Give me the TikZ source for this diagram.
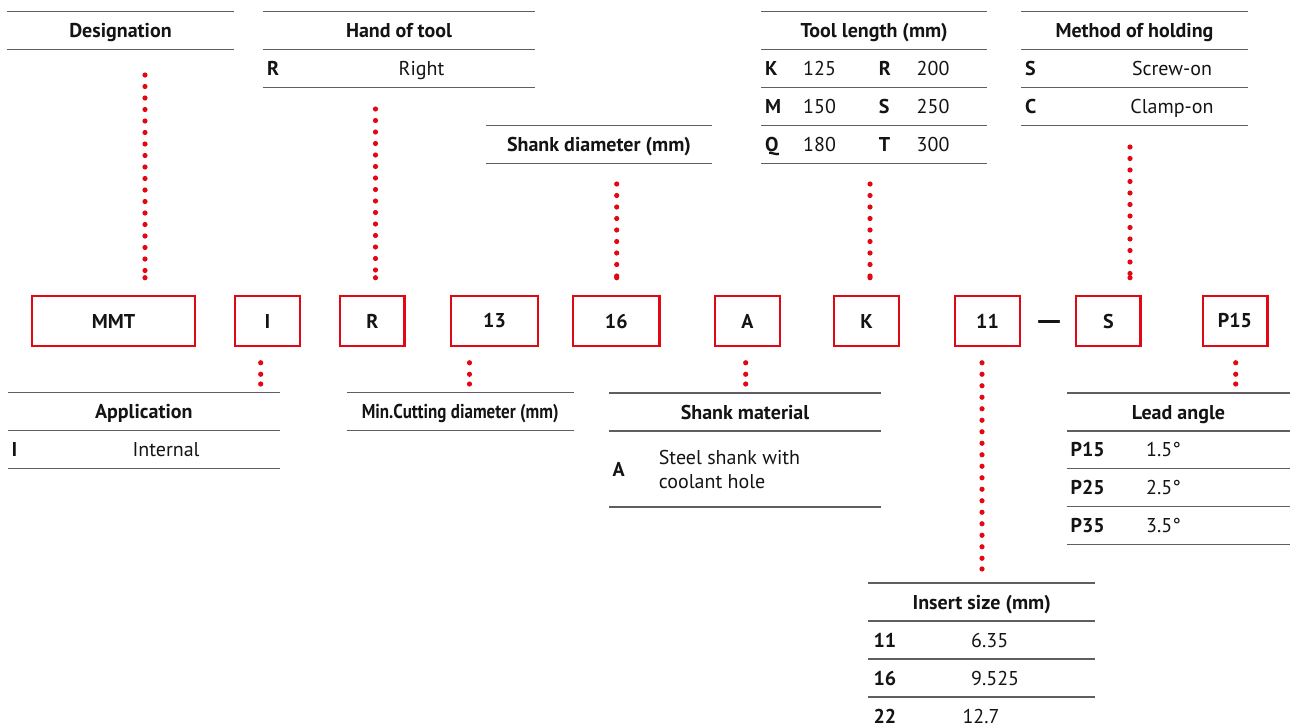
\documentclass[tikz,border=0pt]{standalone}
\usepackage{fontspec}
\setmainfont{PT Sans}
\usetikzlibrary{positioning, calc, decorations.markings}
\definecolor{codered}{RGB}{227,6,19}
\definecolor{rulegray}{RGB}{95,95,95}
\definecolor{inkblack}{RGB}{20,20,20}

\begin{document}
\begin{tikzpicture}[x=1pt, y=-1pt, font=\fontsize{20}{24.6}\selectfont, text=inkblack,
    codebox/.style={draw=codered, line width=2.4pt, minimum height=49.5pt, inner sep=0pt, font=\fontsize{20}{24.6}\selectfont\bfseries},
    smallbox/.style={codebox, minimum width=64.6pt},
    widebox/.style={codebox, minimum width=86.6pt},
    tabrule/.style={draw=rulegray, line width=1.5pt},
    head/.style={anchor=base, inner sep=0pt, font=\fontsize{20}{24.6}\selectfont\bfseries},
    key/.style={anchor=base west, inner sep=0pt, font=\fontsize{20}{24.6}\selectfont\bfseries},
    val/.style={anchor=base, inner sep=0pt},
    lval/.style={anchor=base west, inner sep=0pt},
    dotline/.style={draw=codered, line width=5.2pt, line cap=round, dash pattern=on 0pt off 11.5pt,
        postaction={decorate}, decoration={markings, mark=at position 0.9999 with {\fill[codered] circle (2.6pt);}}}]
    \useasboundingbox (0,0) rectangle (1290,726);

    % code boxes
    \node[codebox, minimum width=162.6pt] (b-mmt) at (113.5,321) {MMT};
    \node[smallbox] (b-i)   at (267.5,321) {I};
    \node[smallbox] (b-r)   at (372.3,321) {R};
    \node[widebox]  (b-13)  at (494.5,321) {13};
    \node[widebox]  (b-16)  at (616.3,321) {16};
    \node[smallbox] (b-a)   at (747.5,321) {A};
    \node[smallbox] (b-k)   at (866.5,321) {K};
    \node[smallbox] (b-11)  at (987.5,321) {11};
    \node[font=\fontsize{20}{24.6}\selectfont\bfseries, inner sep=0pt] (dash) at (1049,324.5) {\scalebox{1.8}[1.3]{—}};
    \node[smallbox] (b-s)   at (1108.3,321) {S};
    \node[smallbox] (b-p15) at (1235,321) {P15};

    % tables above
    \foreach \y in {11.7,49.6} \draw[tabrule] (7,\y) -- (234,\y);
    \node[head] (t-desig) at (120.5,37.6) {Designation};

    \foreach \y in {11.7,49.6,87.5} \draw[tabrule] (263,\y) -- (535,\y);
    \node[head] (t-hand) at (399,37.6) {Hand of tool};
    \node[key] (k-hand-r) at (267,75.5) {R};
    \node[val] (v-hand-r) at (421.5,75.5) {Right};

    \foreach \y in {125.7,163.3} \draw[tabrule] (486,\y) -- (712.3,\y);
    \node[head] (t-shdia) at (599,151.5) {Shank diameter (mm)};

    \foreach \y in {11.7,49.6,87.5,125.4,163.3} \draw[tabrule] (761,\y) -- (987.4,\y);
    \node[head] (t-len) at (874.2,37.6) {Tool length (mm)};
    \foreach \ka/\va/\kb/\vb [count=\i] in {K/125/R/200, M/150/S/250, Q/180/T/300} {
        \node[key]  (k-len-\i) at (765,37.6+37.9*\i) {\ka};
        \node[lval] (v-len-\i) at (803,37.6+37.9*\i) {\va};
        \node[key]  (k-lenb-\i) at (878.6,37.6+37.9*\i) {\kb};
        \node[lval] (v-lenb-\i) at (916.5,37.6+37.9*\i) {\vb};
    }

    \foreach \y in {11.7,49.6,87.5,125.4} \draw[tabrule] (1021.4,\y) -- (1247.7,\y);
    \node[head] (t-hold) at (1134.5,37.6) {Method of holding};
    \node[key] (k-hold-s) at (1025,75.5) {S};
    \node[val] (v-hold-s) at (1172,75.5) {Screw-on};
    \node[key] (k-hold-c) at (1025,113.4) {C};
    \node[val] (v-hold-c) at (1172,113.4) {Clamp-on};

    % tables below
    \foreach \y in {392.7,430.7,468.7} \draw[tabrule] (8,\y) -- (279.6,\y);
    \node[head] (t-app) at (143.8,418.7) {Application};
    \node[key] (k-app-i) at (11.4,456.7) {I};
    \node[val] (v-app-i) at (166,456.7) {Internal};

    \foreach \y in {392.7,430.7} \draw[tabrule] (347,\y) -- (573.5,\y);
    \node[head] (t-mincut) at (460.2,418.7) {\scalebox{0.85}[1]{Min.Cutting diameter (mm)}};

    \foreach \y in {393,431,507} \draw[tabrule] (608.8,\y) -- (881,\y);
    \node[head] (t-shmat) at (745,419) {Shank material};
    \node[key] (k-shmat-a) at (612.3,476) {A};
    \node[anchor=west, inner sep=0pt, align=left] (v-shmat-a) at (658.6,469.5) {Steel shank with\\coolant hole};

    \foreach \y in {393,430.9,468.7,506.5,544.3} \draw[tabrule] (1067,\y) -- (1290,\y);
    \node[head] (t-lead) at (1178.5,419) {Lead angle};
    \foreach \k/\v [count=\i] in {P15/1.5°, P25/2.5°, P35/3.5°} {
        \node[key]  (k-lead-\i) at (1070.5,419+37.8*\i) {\k};
        \node[lval] (v-lead-\i) at (1146,419+37.8*\i) {\v};
    }

    \foreach \y in {583,621,659,697} \draw[tabrule] (868.3,\y) -- (1095,\y);
    \node[head] (t-insert) at (981.7,609) {Insert size (mm)};
    \node[key]  (k-ins-1) at (873.3,647) {11};
    \node[lval] (v-ins-1) at (971,647) {6.35};
    \node[key]  (k-ins-2) at (873.3,685) {16};
    \node[lval] (v-ins-2) at (971,685) {9.525};
    \node[key]  (k-ins-3) at (873.3,723) {22};
    \node[lval] (v-ins-3) at (962.3,723) {12.7};

    % dotted leaders, table to box
    \coordinate (d-desig) at (145,75);
    \coordinate (d-hand)  at (375.5,109);
    \coordinate (d-shdia) at (616.7,184);
    \coordinate (d-len)   at (870,184);
    \coordinate (d-hold)  at (1130,147);
    \draw[dotline] (d-desig) -- ($(d-desig |- b-mmt.north)+(0,-17.3)$);
    \draw[dotline] (d-hand)  -- ($(d-hand |- b-r.north)+(0,-17.3)$);
    \draw[dotline] (d-shdia) -- ($(d-shdia |- b-16.north)+(0,-17.3)$);
    \draw[dotline] (d-len)   -- ($(d-len |- b-k.north)+(0,-17.3)$);
    \draw[dotline] (d-hold)  -- ($(d-hold |- b-s.north)+(0,-17.3)$);
    % dotted leaders, box to table
    \coordinate (d-app)    at (260.7,384);
    \coordinate (d-mincut) at (469.5,384);
    \coordinate (d-shmat)  at (745.7,384);
    \coordinate (d-insert) at (982,569);
    \coordinate (d-lead)   at (1235.7,384);
    \draw[dotline] ($(d-app |- b-i.south)+(0,15.8)$) -- (d-app);
    \draw[dotline] ($(d-mincut |- b-13.south)+(0,15.8)$) -- (d-mincut);
    \draw[dotline] ($(d-shmat |- b-a.south)+(0,15.8)$) -- (d-shmat);
    \draw[dotline] ($(d-insert |- b-11.south)+(0,15.8)$) -- (d-insert);
    \draw[dotline] ($(d-lead |- b-p15.south)+(0,15.8)$) -- (d-lead);
\end{tikzpicture}
\end{document}
